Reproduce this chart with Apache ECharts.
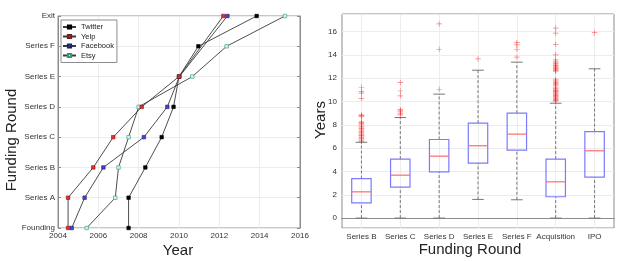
<!DOCTYPE html>
<html>
<head>
<meta charset="utf-8">
<script src="https://cdn.jsdelivr.net/npm/echarts@6/dist/echarts.min.js"></script>
<style>
html,body{margin:0;padding:0;background:#fff;}
#chart{width:623px;height:261px;}
</style>
</head>
<body>
<div id="chart"></div>
<script>
// ---------- Left panel data ----------
const rounds = ['Founding','Series A','Series B','Series C','Series D','Series E','Series F','Exit'];
const yearTicks = [2004, 2006, 2008, 2010, 2012, 2014, 2016];

const twitterYears  = [2007.5, 2007.5, 2008.33, 2009.14, 2009.73, 2010.0, 2010.96, 2013.85];
const twitterRounds = ['Founding','Series A','Series B','Series C','Series D','Series E','Series F','Exit'];

const yelpYears  = [2004.5, 2004.5, 2005.75, 2006.74, 2008.15, 2010.0, 2012.2];
const yelpRounds = ['Founding','Series A','Series B','Series C','Series D','Series E','Exit'];

const facebookYears  = [2004.68, 2005.32, 2006.25, 2008.26, 2009.42, 2010.02, 2012.4];
const facebookRounds = ['Founding','Series A','Series B','Series C','Series D','Series E','Exit'];

const etsyYears  = [2005.42, 2006.84, 2007.0, 2007.5, 2008.0, 2010.66, 2012.36, 2015.25];
const etsyRounds = ['Founding','Series A','Series B','Series C','Series D','Series E','Series F','Exit'];

// ---------- Right panel data ----------
const boxCategories = ['Series B','Series C','Series D','Series E','Series F','Acquisition','IPO'];
const boxMin    = [0,    0,    0,    1.6,  1.57, 0,    0];
const boxQ1     = [1.31, 2.66, 3.97, 4.71, 5.83, 1.83, 3.51];
const boxMedian = [2.25, 3.68, 5.31, 6.2,  7.2,  3.11, 5.77];
const boxQ3     = [3.39, 5.06, 6.74, 8.14, 9.0,  5.06, 7.42];
const boxMax    = [6.5,  8.62, 10.63,12.68,13.37,9.85, 12.8];

const outliersSeriesB = [6.58,6.65,6.72,6.8,6.88,6.95,7.05,7.12,7.2,7.3,7.38,7.45,7.55,7.65,7.72,7.82,7.9,8.0,8.1,8.19,8.3,8.72,8.78,8.85,10.25,10.71,10.85,11.22];
const outliersSeriesC = [8.85,8.95,9.1,9.2,9.3,10.48,10.9,11.62];
const outliersSeriesD = [11.05,14.48,16.65];
const outliersSeriesE = [13.65];
const outliersSeriesF = [13.8,14.48,14.85,15.05];
const outliersAcquisition = [10.0,10.07,10.14,10.2,10.29,10.36,10.43,10.5,10.57,10.64,10.71,10.8,10.86,10.93,11.0,11.1,11.23,11.35,11.43,11.5,11.57,11.65,11.71,11.8,11.91,12.57,12.65,12.71,12.8,12.86,12.95,13.0,13.07,13.14,13.25,13.34,13.43,13.57,14.0,14.9,15.86,16.29];
const outliersIPO = [15.9];

// ---------- Build ----------
const FONT = 'Liberation Sans, Arial, Helvetica, sans-serif';
const LBL = '#333';
const AXC = '#8c8c8c';
const GRIDC = '#ececec';

function pair(xs, ys){ return xs.map((x,i)=>[x, ys[i]]); }

const boxData = boxCategories.map((c,i)=>[i, boxMin[i], boxQ1[i], boxMedian[i], boxQ3[i], boxMax[i]]);
const outlierLists = [outliersSeriesB, outliersSeriesC, outliersSeriesD, outliersSeriesE, outliersSeriesF, outliersAcquisition, outliersIPO];
const outlierData = [];
outlierLists.forEach((lst,i)=>lst.forEach(v=>outlierData.push([i, v])));

const lineSeries = (name, data, fill, border, z) => ({
  name, type: 'line', xAxisIndex: 0, yAxisIndex: 0, data,
  symbol: 'rect', symbolSize: 3.5, z: z,
  lineStyle: { color: '#3a3a3a', width: 0.9 },
  itemStyle: { color: fill, borderColor: border, borderWidth: 0.6 },
  emphasis: { disabled: true }, animation: false
});

const plusPath = 'path://M4.4,0h1.2v4.4h4.4v1.2h-4.4v4.4h-1.2v-4.4h-4.4v-1.2h4.4z';

const option = {
  animation: false,
  textStyle: { fontFamily: FONT },
  grid: [
    { left: 58, top: 16, width: 242, height: 212, show: true, borderColor: AXC, borderWidth: 1, backgroundColor: '#fff' },
    { left: 342, top: 14, width: 272, height: 214, show: true, borderColor: AXC, borderWidth: 1, backgroundColor: '#fff' }
  ],
  legend: {
    data: ['Twitter','Yelp','Facebook','Etsy'],
    left: 61, top: 20, orient: 'vertical',
    itemWidth: 13, itemHeight: 4, itemGap: 1.5,
    padding: [3, 3, 3, 1],
    borderColor: '#8c8c8c', borderWidth: 1, backgroundColor: '#fff',
    textStyle: { fontSize: 7.5, color: '#222', fontFamily: FONT }
  },
  xAxis: [
    { type: 'value', gridIndex: 0, min: 2004, max: 2016, interval: 2,
      axisLine: { lineStyle: { color: AXC } },
      axisTick: { inside: true, length: 3, lineStyle: { color: AXC } },
      axisLabel: { fontSize: 8, color: LBL, margin: 4, fontFamily: FONT, formatter: v => String(v) },
      splitLine: { show: true, lineStyle: { color: GRIDC } } },
    { type: 'value', gridIndex: 0, position: 'top', min: 2004, max: 2016, interval: 2,
      axisLine: { lineStyle: { color: AXC } },
      axisTick: { inside: true, length: 3, lineStyle: { color: AXC } },
      axisLabel: { show: false }, splitLine: { show: false } },
    { type: 'category', gridIndex: 1, data: boxCategories, boundaryGap: true,
      axisLine: { lineStyle: { color: AXC } },
      axisTick: { inside: true, length: 3, alignWithLabel: true, lineStyle: { color: AXC } },
      axisLabel: { fontSize: 8, color: LBL, margin: 5, fontFamily: FONT, interval: 0 },
      splitLine: { show: true, alignWithLabel: true, interval: 0, lineStyle: { color: GRIDC } } },
    { type: 'category', gridIndex: 1, position: 'top', data: boxCategories, boundaryGap: true,
      axisLine: { lineStyle: { color: AXC } },
      axisTick: { inside: true, length: 3, alignWithLabel: true, lineStyle: { color: AXC } },
      axisLabel: { show: false }, splitLine: { show: false } }
  ],
  yAxis: [
    { type: 'category', gridIndex: 0, data: rounds, boundaryGap: false,
      axisLine: { lineStyle: { color: AXC } },
      axisTick: { inside: true, length: 3, lineStyle: { color: AXC } },
      axisLabel: { fontSize: 8, color: LBL, margin: 3, fontFamily: FONT, interval: 0 },
      splitLine: { show: true, lineStyle: { color: GRIDC } } },
    { type: 'category', gridIndex: 0, position: 'right', data: rounds, boundaryGap: false,
      axisLine: { lineStyle: { color: AXC } },
      axisTick: { inside: true, length: 3, lineStyle: { color: AXC } },
      axisLabel: { show: false }, splitLine: { show: false } },
    { type: 'value', gridIndex: 1, min: -0.85, max: 17.5, splitNumber: 9, minInterval: 2, maxInterval: 2,
      axisLine: { lineStyle: { color: AXC } },
      axisTick: { inside: true, length: 3, lineStyle: { color: AXC } },
      axisLabel: { fontSize: 8, color: LBL, margin: 5, fontFamily: FONT, showMinLabel: false, showMaxLabel: false },
      splitLine: { show: true, lineStyle: { color: GRIDC } } },
    { type: 'value', gridIndex: 1, position: 'right', min: -0.85, max: 17.5, splitNumber: 9, minInterval: 2, maxInterval: 2,
      axisLine: { lineStyle: { color: AXC } },
      axisTick: { inside: true, length: 3, lineStyle: { color: AXC } },
      axisLabel: { show: false }, splitLine: { show: false } }
  ],
  series: [
    lineSeries('Twitter', pair(twitterYears, twitterRounds), '#000000', '#000000', 3),
    lineSeries('Yelp', pair(yelpYears, yelpRounds), '#e23030', '#7a1a1a', 5),
    lineSeries('Facebook', pair(facebookYears, facebookRounds), '#4646c8', '#1e1e70', 4),
    lineSeries('Etsy', pair(etsyYears, etsyRounds), '#d8f2ea', '#2e9a78', 4),
    {
      type: 'custom', xAxisIndex: 2, yAxisIndex: 2, data: boxData,
      encode: { x: 0, y: [1,2,3,4,5] }, z: 3,
      renderItem: function(params, api){
        const i = api.value(0);
        const pMin = api.coord([i, api.value(1)]);
        const pQ1 = api.coord([i, api.value(2)]);
        const pMed = api.coord([i, api.value(3)]);
        const pQ3 = api.coord([i, api.value(4)]);
        const pMax = api.coord([i, api.value(5)]);
        const band = api.size([1, 0])[0];
        const bw = band * 0.5;
        const cw = band * 0.3;
        const x = pMin[0];
        const dash = { stroke: '#777', lineWidth: 1, lineDash: [3, 2] };
        const cap = { stroke: '#777', lineWidth: 1 };
        return {
          type: 'group',
          children: [
            { type: 'line', shape: { x1: x, y1: pMin[1], x2: x, y2: pQ1[1] }, style: dash },
            { type: 'line', shape: { x1: x, y1: pQ3[1], x2: x, y2: pMax[1] }, style: dash },
            { type: 'line', shape: { x1: x - cw/2, y1: pMin[1], x2: x + cw/2, y2: pMin[1] }, style: cap },
            { type: 'line', shape: { x1: x - cw/2, y1: pMax[1], x2: x + cw/2, y2: pMax[1] }, style: cap },
            { type: 'rect', shape: { x: x - bw/2, y: pQ3[1], width: bw, height: pQ1[1] - pQ3[1] },
              style: { fill: 'none', stroke: '#7b7bff', lineWidth: 1.2 } },
            { type: 'line', shape: { x1: x - bw/2, y1: pMed[1], x2: x + bw/2, y2: pMed[1] },
              style: { stroke: '#ff6a6a', lineWidth: 1.2 } }
          ]
        };
      }
    },
    {
      type: 'scatter', xAxisIndex: 2, yAxisIndex: 2, data: outlierData,
      symbol: plusPath, symbolSize: 5.5, z: 4,
      itemStyle: { color: 'rgba(255,30,30,0.75)' },
      emphasis: { disabled: true }
    }
  ],
  graphic: [
    { type: 'text', x: 12, y: 140, rotation: Math.PI/2,
      style: { text: 'Funding Round', fontSize: 15, fontFamily: FONT, fill: '#222', align: 'center', verticalAlign: 'middle' } },
    { type: 'text', x: 178, y: 251,
      style: { text: 'Year', fontSize: 15, fontFamily: FONT, fill: '#222', align: 'center', verticalAlign: 'middle' } },
    { type: 'text', x: 321, y: 120, rotation: Math.PI/2,
      style: { text: 'Years', fontSize: 15, fontFamily: FONT, fill: '#222', align: 'center', verticalAlign: 'middle' } },
    { type: 'text', x: 470, y: 250,
      style: { text: 'Funding Round', fontSize: 15, fontFamily: FONT, fill: '#222', align: 'center', verticalAlign: 'middle' } }
  ]
};

const chart = echarts.init(document.getElementById('chart'), null, { renderer: 'canvas' });
chart.setOption(option);
</script>
</body>
</html>
